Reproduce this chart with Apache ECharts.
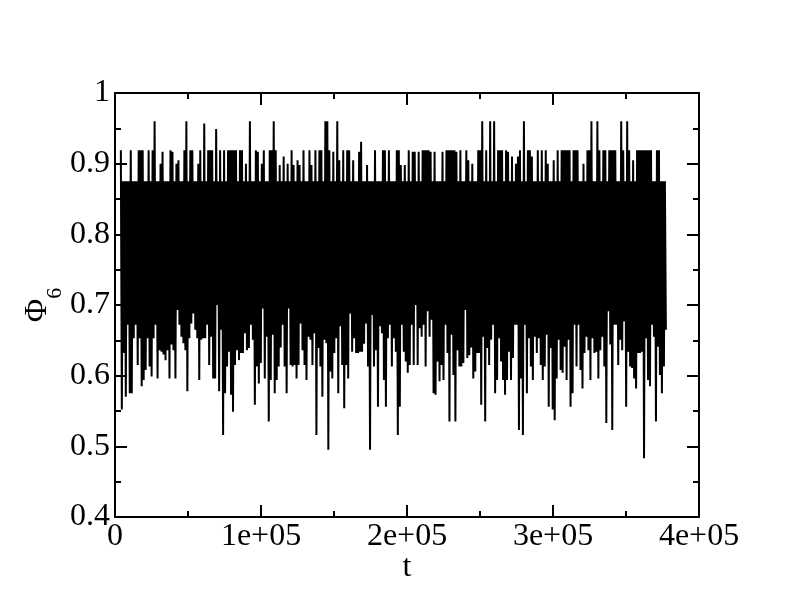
<!DOCTYPE html>
<html>
<head>
<meta charset="utf-8">
<script src="https://cdn.jsdelivr.net/npm/echarts@6/dist/echarts.min.js"></script>
<style>
  html, body { margin: 0; padding: 0; background: #fff; }
  #chart { width: 792px; height: 608px; }
</style>
</head>
<body>
<div id="chart"></div>
<script>
// Time sampling of the trace (t units)
const tStart = 4000;
const tStep = 1360;

// Upper excursions of Phi_6, one per sample
const hiPhi = [
  .919,.875,.875,.875,.875,.919,.875,.875,.875,.919,
  .919,.919,.875,.875,.919,.875,.919,.960,.875,.875,
  .900,.917,.875,.875,.875,.919,.917,.875,.900,.905,
  .875,.875,.919,.960,.875,.919,.919,.875,.875,.900,
  .919,.875,.957,.875,.919,.919,.919,.875,.949,.875,
  .919,.875,.919,.875,.919,.919,.919,.919,.919,.875,
  .919,.919,.875,.900,.875,.960,.875,.875,.919,.917,
  .875,.900,.919,.875,.875,.919,.919,.960,.919,.875,
  .898,.875,.910,.875,.900,.875,.919,.898,.875,.905,
  .898,.875,.919,.875,.875,.919,.898,.875,.919,.875,
  .919,.919,.875,.960,.960,.919,.875,.917,.875,.960,
  .905,.875,.919,.875,.919,.919,.875,.905,.875,.875,
  .917,.931,.875,.875,.898,.875,.875,.875,.919,.875,
  .875,.875,.919,.919,.875,.919,.875,.875,.875,.919,
  .919,.898,.875,.898,.875,.919,.875,.917,.917,.875,
  .917,.875,.919,.919,.919,.919,.917,.875,.917,.875,
  .875,.875,.917,.875,.919,.919,.919,.919,.919,.917,
  .875,.919,.875,.875,.919,.905,.875,.900,.875,.875,
  .919,.919,.960,.875,.919,.875,.960,.875,.960,.875,
  .919,.919,.919,.875,.919,.917,.875,.910,.875,.900,
  .910,.919,.875,.960,.875,.919,.919,.910,.875,.875,
  .919,.875,.919,.875,.919,.900,.875,.875,.905,.875,
  .919,.875,.919,.919,.919,.919,.919,.875,.919,.919,
  .919,.875,.875,.900,.875,.919,.919,.960,.875,.875,
  .960,.919,.875,.919,.919,.875,.919,.919,.919,.919,
  .875,.875,.960,.919,.875,.960,.919,.875,.905,.875,
  .919,.919,.919,.919,.919,.919,.919,.919,.875,.875,
  .919,.919,.875,.875,.875
];

// Lower excursions of Phi_6, one per sample
const loPhi = [
  .552,.632,.570,.672,.575,.575,.653,.672,.615,.653,
  .585,.594,.608,.653,.613,.599,.653,.672,.596,.636,
  .634,.630,.622,.636,.596,.644,.636,.596,.693,.672,
  .655,.646,.636,.578,.653,.674,.688,.665,.653,.594,
  .651,.653,.653,.672,.615,.655,.596,.596,.700,.578,
  .665,.516,.575,.613,.634,.573,.549,.615,.636,.622,
  .632,.632,.660,.636,.639,.672,.651,.559,.613,.589,
  .618,.695,.596,.655,.535,.594,.658,.575,.594,.613,
  .640,.672,.613,.575,.695,.615,.613,.615,.596,.615,
  .674,.636,.615,.594,.655,.651,.615,.660,.516,.639,
  .613,.570,.651,.646,.495,.606,.596,.632,.653,.575,
  .670,.615,.554,.615,.596,.688,.634,.653,.632,.632,
  .634,.634,.645,.674,.613,.495,.686,.613,.636,.556,
  .670,.660,.594,.556,.653,.672,.613,.653,.634,.516,
  .556,.672,.634,.620,.604,.615,.672,.615,.700,.615,
  .667,.655,.672,.613,.691,.655,.679,.575,.573,.620,
  .592,.615,.594,.672,.632,.535,.658,.601,.535,.636,
  .613,.613,.618,.693,.625,.629,.640,.596,.606,.632,
  .632,.559,.655,.535,.639,.615,.651,.672,.575,.594,
  .653,.620,.594,.573,.594,.634,.594,.625,.672,.672,
  .523,.596,.516,.672,.575,.653,.613,.594,.655,.632,
  .653,.615,.594,.613,.658,.556,.639,.552,.537,.596,
  .651,.608,.604,.641,.594,.651,.556,.575,.672,.613,
  .672,.608,.582,.632,.655,.636,.594,.653,.632,.634,
  .596,.636,.655,.613,.533,.691,.644,.523,.672,.672,
  .615,.651,.636,.677,.556,.634,.613,.611,.596,.582,
  .632,.632,.634,.483,.653,.594,.585,.672,.655,.535,
  .641,.601,.575,.613,.665
];

// Axis tick labels
const xTickLabels = ['0', '1e+05', '2e+05', '3e+05', '4e+05'];
const yTickLabels = ['0.4', '0.5', '0.6', '0.7', '0.8', '0.9', '1'];

const seriesData = [];
for (let i = 0; i < hiPhi.length; i++) {
  seriesData.push([tStart + i * tStep, hiPhi[i]]);
  seriesData.push([tStart + (i + 0.5) * tStep, loPhi[i]]);
}

const FONT = 'Liberation Serif, Times New Roman, serif';
const axisLineStyle = { color: '#000', width: 2 };

function xAxisCfg(pos, showLabels) {
  return {
    type: 'value', position: pos, min: 0, max: 400000, interval: 100000,
    axisLine: { show: true, onZero: false, lineStyle: axisLineStyle },
    axisTick: { show: true, inside: true, length: 12, lineStyle: { color: '#000', width: 2 } },
    minorTick: { show: true, splitNumber: 2, length: 6, lineStyle: { color: '#000', width: 2 } },
    splitLine: { show: false },
    axisLabel: {
      show: showLabels, margin: 4, color: '#000', fontFamily: FONT, fontSize: 32,
      formatter: (v, idx) => xTickLabels[idx]
    },
    name: showLabels ? 't' : '',
    nameLocation: 'middle', nameGap: 35, nameMoveOverlap: false,
    nameTextStyle: { color: '#000', fontFamily: FONT, fontSize: 32 }
  };
}
function yAxisCfg(pos, showLabels) {
  return {
    type: 'value', position: pos, min: 0.4, max: 1, interval: 0.1,
    axisLine: { show: true, onZero: false, lineStyle: axisLineStyle },
    axisTick: { show: true, inside: true, length: 12, lineStyle: { color: '#000', width: 2 } },
    minorTick: { show: true, splitNumber: 2, length: 6, lineStyle: { color: '#000', width: 2 } },
    splitLine: { show: false },
    axisLabel: {
      show: showLabels, margin: 5, color: '#000', fontFamily: FONT, fontSize: 32,
      formatter: (v, idx) => yTickLabels[idx]
    },
    name: showLabels ? '{a|Φ}{b|6}' : '',
    nameLocation: 'middle', nameGap: 49, nameRotate: 90, nameMoveOverlap: false,
    nameTextStyle: {
      color: '#000', fontFamily: FONT, fontSize: 32,
      rich: {
        a: { fontFamily: FONT, fontSize: 32, color: '#000', verticalAlign: 'bottom', padding: [0, 0, 12, 0] },
        b: { fontFamily: FONT, fontSize: 22, color: '#000', verticalAlign: 'bottom' }
      }
    }
  };
}

const chart = echarts.init(document.getElementById('chart'), null, { renderer: 'canvas' });
chart.setOption({
  animation: false,
  backgroundColor: '#fff',
  grid: { left: 115, top: 93, width: 584, height: 424, containLabel: false },
  xAxis: [xAxisCfg('bottom', true), xAxisCfg('top', false)],
  yAxis: [yAxisCfg('left', true), yAxisCfg('right', false)],
  series: [{
    type: 'line',
    xAxisIndex: 0, yAxisIndex: 0,
    data: seriesData,
    showSymbol: false,
    symbol: 'none',
    sampling: null,
    lineStyle: { color: '#000', width: 2 },
    clip: true
  }]
});
</script>
</body>
</html>
